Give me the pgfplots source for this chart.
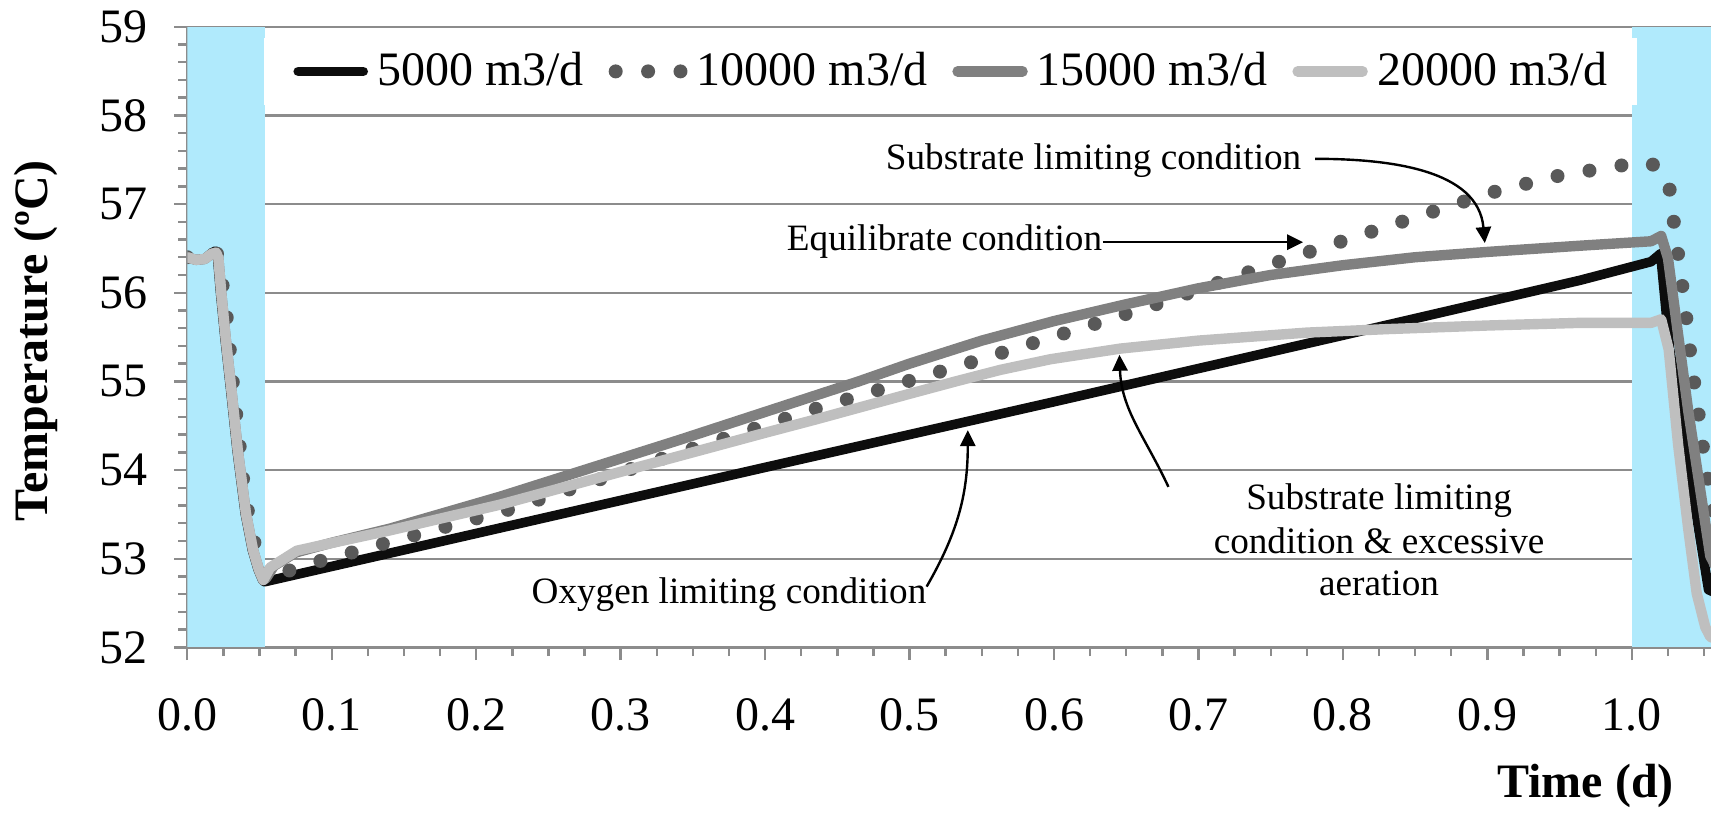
\documentclass[border=0pt]{standalone}
\usepackage{fontspec}
\setmainfont{Liberation Serif}
\usepackage{pgfplots}
\pgfplotsset{compat=1.18}
\usetikzlibrary{arrows.meta}
\definecolor{skyb}{RGB}{176,234,252}
\definecolor{c5}{RGB}{13,13,13}
\definecolor{c10}{RGB}{89,89,89}
\definecolor{c15}{RGB}{128,128,128}
\definecolor{c20}{RGB}{191,191,191}
\definecolor{gridc}{RGB}{140,140,140}
\begin{document}
\begin{tikzpicture}
\begin{axis}[
  scale only axis, width=380.925pt, height=155.175pt,
  xmin=0, xmax=1.0548, ymin=52, ymax=59,
  axis x line*=bottom, axis y line*=left,
  axis line style={gridc, line width=0.6pt},
  xtick={0,0.1,0.2,0.3,0.4,0.5,0.6,0.7,0.8,0.9,1.0},
  minor xtick={0.025,0.05,0.075,0.125,0.15,0.175,0.225,0.25,0.275,0.325,0.35,0.375,0.425,0.45,0.475,0.525,0.55,0.575,0.625,0.65,0.675,0.725,0.75,0.775,0.825,0.85,0.875,0.925,0.95,0.975,1.025,1.05},
  ytick={52,53,54,55,56,57,58,59},
  minor y tick num=4,
  tick align=outside,
  major tick length=3.2pt, minor tick length=2.2pt,
  tick style={gridc, line width=0.6pt},
  ymajorgrids=true,
  major grid style={gridc, line width=0.6pt},
  /pgf/number format/assume math mode=true,
  tick label style={font=\fontsize{12}{14}\selectfont},
  xticklabel style={yshift=-6pt, /pgf/number format/.cd, fixed, fixed zerofill, precision=1},
  yticklabel style={xshift=-3.1pt},
  xlabel={Time (d)},
  ylabel={Temperature (ºC)},
  label style={font=\bfseries\fontsize{12}{14}\selectfont},
  xlabel style={at={(axis description cs:0.9849,-0.2228)}, anchor=east},
  ylabel style={at={(axis description cs:-0.0995,0.494)}, anchor=center},
  legend columns=4,
  legend image code/.code={\draw[#1] (0pt,0pt) -- (16.25pt,0pt);},
  legend style={at={(0.0497,0.928)}, anchor=west, draw=none, fill=white,
    inner xsep=7.4pt, inner ysep=2pt, font=\fontsize{12}{14}\selectfont,
    /tikz/every odd column/.append style={column sep=2.3pt},
    /tikz/every even column/.append style={column sep=6.2pt},
    nodes={inner xsep=0pt, inner ysep=1.5pt}},
]
\addplot[fill=skyb, draw=none, forget plot] coordinates {(0,52) (0,59) (0.0537,59) (0.0537,52)} -- cycle;
\addplot[fill=skyb, draw=none, forget plot] coordinates {(1.0,52) (1.0,59) (1.07,59) (1.07,52)} -- cycle;

\addplot[c5, line width=2.4pt, line join=round, line cap=round] coordinates {
(0,56.40) (0.006,56.37) (0.012,56.38) (0.017,56.45) (0.0195,56.47) (0.021,56.39) (0.023,56.0) (0.026,55.5) (0.0298,54.94) (0.0344,54.23) (0.0401,53.51) (0.045,53.1) (0.049,52.88) (0.0521,52.76) (0.0535,52.74)
(0.2,53.285) (0.4,54.03) (0.6,54.77) (0.8,55.52) (0.9641,56.14) (1.0133,56.35) (1.0199,56.44) (1.0262,55.36) (1.0531,52.65) (1.06,52.6)};
\addlegendentry{5000 m3/d}

\addplot[c10, line width=3.5pt, line cap=round, line join=round, dash pattern=on 0pt off 8.1pt] coordinates {
(0,56.40) (0.006,56.37) (0.012,56.38) (0.017,56.44) (0.02,56.45) (0.0215,56.42) (0.0249,56.03) (0.0277,55.67) (0.0296,55.32) (0.0318,54.94) (0.0342,54.58) (0.0365,54.23) (0.0388,53.87) (0.0422,53.51) (0.0469,53.15) (0.0515,52.85) (0.0545,52.76)
(0.0711,52.87) (0.0931,52.98) (0.1139,53.07) (0.1358,53.17) (0.2217,53.55) (0.329,54.13) (0.4349,54.69) (0.5416,55.21) (0.6265,55.64) (0.669,55.86) (0.754,56.34) (0.8389,56.79) (0.903,57.13) (0.9464,57.31) (0.9899,57.43) (1.0126,57.47)
(1.025,57.31) (1.0278,56.95) (1.0308,56.59) (1.0336,56.23) (1.0367,55.87) (1.039,55.51) (1.0418,55.14) (1.0449,54.79) (1.0477,54.44) (1.0508,54.06) (1.0543,53.74) (1.06,53.2)};
\addlegendentry{10000 m3/d}

\addplot[c15, line width=2.6pt, line join=round, line cap=round] coordinates {
(0,56.40) (0.006,56.37) (0.012,56.38) (0.017,56.44) (0.02,56.45) (0.0215,56.39) (0.0235,56.0) (0.0265,55.5) (0.0303,54.94) (0.0349,54.23) (0.0406,53.51) (0.0455,53.1) (0.0495,52.88) (0.0526,52.76)
(0.0545,52.78) (0.06,52.92) (0.075,53.07) (0.1,53.18) (0.1404,53.34) (0.2166,53.70) (0.3407,54.34) (0.4648,55.0) (0.5,55.2) (0.55,55.46) (0.6,55.68) (0.65,55.87) (0.7,56.05) (0.75,56.2) (0.8,56.31) (0.85,56.4) (0.9,56.46) (0.9641,56.53) (1.0133,56.58) (1.0203,56.64)
(1.025,56.39) (1.039,54.67) (1.0543,53.03) (1.06,52.85)};
\addlegendentry{15000 m3/d}

\addplot[c20, line width=2.6pt, line join=round, line cap=round] coordinates {
(0,56.40) (0.006,56.37) (0.012,56.38) (0.017,56.44) (0.02,56.45) (0.0215,56.39) (0.0235,56.0) (0.0265,55.5) (0.0303,54.94) (0.0349,54.23) (0.0406,53.51) (0.0455,53.1) (0.0495,52.88) (0.0526,52.76)
(0.0573,52.9) (0.0758,53.09) (0.1035,53.19) (0.1404,53.32) (0.2166,53.61) (0.3,53.98) (0.4,54.42) (0.4349,54.57) (0.5,54.86) (0.532,55.0) (0.5629,55.13) (0.5976,55.25) (0.646,55.37) (0.7,55.46) (0.775,55.55) (0.8315,55.59) (0.9,55.63) (0.9641,55.66) (1.0133,55.66) (1.0203,55.70)
(1.0255,55.36) (1.032,54.29) (1.039,53.34) (1.0449,52.61) (1.0508,52.23) (1.0543,52.12) (1.06,52.08)};
\addlegendentry{20000 m3/d}

% annotations
\begin{scope}[font=\fontsize{9.3}{10.6}\selectfont]
\node[anchor=base east, inner sep=0pt] at (axis cs:0.7717,57.39) {Substrate limiting condition};
\draw[-{Triangle[length=4pt,width=3.8pt]}, line width=0.6pt] (axis cs:0.7807,57.51) to[out=0,in=95] (axis cs:0.8982,56.56);
\node[anchor=base east, inner sep=0pt] at (axis cs:0.6338,56.48) {Equilibrate condition};
\draw[-{Triangle[length=4pt,width=3.8pt]}, line width=0.6pt] (axis cs:0.6338,56.57) -- (axis cs:0.7724,56.57);
\node[anchor=base, inner sep=0pt] at (axis cs:0.375,52.497) {Oxygen limiting condition};
\draw[-{Triangle[length=4pt,width=3.8pt]}, line width=0.6pt] (axis cs:0.5118,52.685) to[out=60,in=-90] (axis cs:0.5403,54.45);
\node[anchor=base, inner sep=0pt] at (axis cs:0.825,53.55) {Substrate limiting};
\node[anchor=base, inner sep=0pt] at (axis cs:0.825,53.06) {condition \& excessive};
\node[anchor=base, inner sep=0pt] at (axis cs:0.825,52.59) {aeration};
\draw[-{Triangle[length=4pt,width=3.8pt]}, line width=0.6pt] (axis cs:0.6792,53.81) to[out=115,in=-88] (axis cs:0.6453,55.30);
\end{scope}
\end{axis}
\pgfresetboundingbox
\useasboundingbox ([xshift=-46.825pt,yshift=-42.4pt]current axis.south west) rectangle ([yshift=6.675pt]current axis.north east);
\end{tikzpicture}
\end{document}
